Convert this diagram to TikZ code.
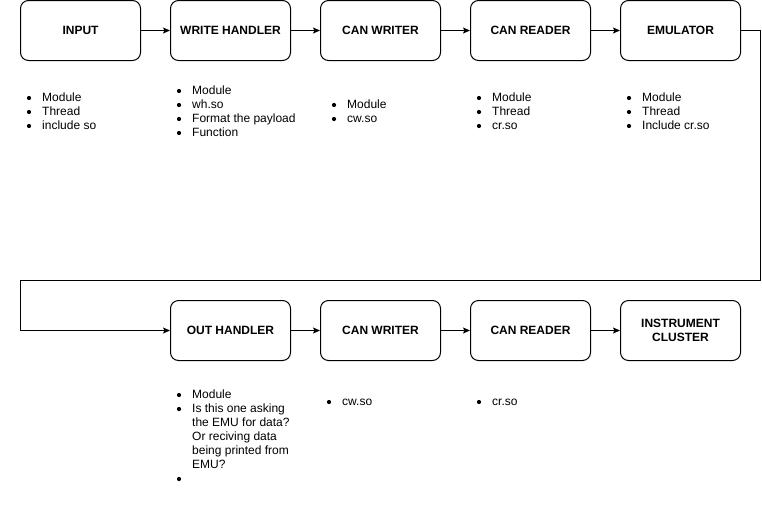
\documentclass[tikz,border=0pt]{standalone}
\usepackage{fontspec}
\setmainfont{Liberation Sans}
\usetikzlibrary{arrows.meta}
\begin{document}
\begin{tikzpicture}[x=1pt,y=-1pt,
  box/.style={draw, line width=1pt, rounded corners=8pt, minimum width=120pt, minimum height=60pt, inner sep=0pt, font=\fontsize{12}{14}\selectfont\bfseries, align=center},
  item/.style={anchor=base west, inner sep=0pt, font=\fontsize{12}{14}\selectfont},
  bul/.style={circle, fill, inner sep=0pt, minimum size=4.2pt},
  conn/.style={line width=1pt, -{Stealth[length=7pt,width=6pt,inset=1.5pt]}}]
\useasboundingbox (0,0) rectangle (762,506);
% top row
\node[box] (input) at (80.5,30.5) {INPUT};
\node[box] (wh) at (230.5,30.5) {WRITE HANDLER};
\node[box] (cw1) at (380.5,30.5) {CAN WRITER};
\node[box] (cr1) at (530.5,30.5) {CAN READER};
\node[box] (emu) at (680.5,30.5) {EMULATOR};
% bottom row
\node[box] (oh) at (230.5,330.5) {OUT HANDLER};
\node[box] (cw2) at (380.5,330.5) {CAN WRITER};
\node[box] (cr2) at (530.5,330.5) {CAN READER};
\node[box] (ic) at (680.5,330.5) {INSTRUMENT\\CLUSTER};
% connectors
\draw[conn] (input) -- (wh);
\draw[conn] (wh) -- (cw1);
\draw[conn] (cw1) -- (cr1);
\draw[conn] (cr1) -- (emu);
\coordinate (c1) at (760.5,30.5);
\coordinate (c2) at (760.5,280.5);
\coordinate (c3) at (20.5,280.5);
\coordinate (c4) at (20.5,330.5);
\draw[conn] (emu.east) -- (c1) -- (c2) -- (c3) -- (c4) -- (oh.west);
\draw[conn] (oh) -- (cw2);
\draw[conn] (cw2) -- (cr2);
\draw[conn] (cr2) -- (ic);
% lists
% INPUT
\node[bul] (b11) at (29,98) {}; \node[item] (t11) at (42,101.5) {Module};
\node[bul] (b12) at (29,112) {}; \node[item] (t12) at (42,115.5) {Thread};
\node[bul] (b13) at (29,126) {}; \node[item] (t13) at (42,129.5) {include so};
% WRITE HANDLER
\node[bul] (b21) at (179,91) {}; \node[item] (t21) at (192,94.5) {Module};
\node[bul] (b22) at (179,105) {}; \node[item] (t22) at (192,108.5) {wh.so};
\node[bul] (b23) at (179,119) {}; \node[item] (t23) at (192,122.5) {Format the payload};
\node[bul] (b24) at (179,133) {}; \node[item] (t24) at (192,136.5) {Function};
% CAN WRITER
\node[bul] (b31) at (334,105) {}; \node[item] (t31) at (347,108.5) {Module};
\node[bul] (b32) at (334,119) {}; \node[item] (t32) at (347,122.5) {cw.so};
% CAN READER
\node[bul] (b41) at (479,98) {}; \node[item] (t41) at (492,101.5) {Module};
\node[bul] (b42) at (479,112) {}; \node[item] (t42) at (492,115.5) {Thread};
\node[bul] (b43) at (479,126) {}; \node[item] (t43) at (492,129.5) {cr.so};
% EMULATOR
\node[bul] (b51) at (629,98) {}; \node[item] (t51) at (642,101.5) {Module};
\node[bul] (b52) at (629,112) {}; \node[item] (t52) at (642,115.5) {Thread};
\node[bul] (b53) at (629,126) {}; \node[item] (t53) at (642,129.5) {Include cr.so};
% OUT HANDLER
\node[bul] (b61) at (179,395) {}; \node[item] (t61) at (192,398.5) {Module};
\node[bul] (b62) at (179,409) {}; \node[item] (t62) at (192,412.5) {Is this one asking};
\node[item] (t63) at (192,426.5) {the EMU for data?};
\node[item] (t64) at (192,440.5) {Or reciving data};
\node[item] (t65) at (192,454.5) {being printed from};
\node[item] (t66) at (192,468.5) {EMU?};
\node[bul] (b63) at (179,479) {};
% CAN WRITER 2
\node[bul] (b71) at (329,402) {}; \node[item] (t71) at (342,405.5) {cw.so};
% CAN READER 2
\node[bul] (b81) at (479,402) {}; \node[item] (t81) at (492,405.5) {cr.so};
\end{tikzpicture}
\end{document}
